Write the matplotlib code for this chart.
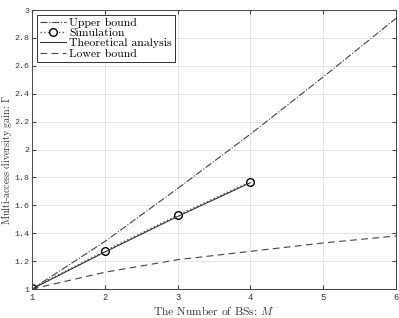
import numpy as np
import matplotlib
matplotlib.use('Agg')
import matplotlib.pyplot as plt

# data
M = [1, 2, 3, 4, 5, 6]
upper_bound = [1.0, 1.34, 1.72, 2.11, 2.52, 2.94]
lower_bound = [1.0, 1.12, 1.21, 1.27, 1.33, 1.38]
M_sim = [1, 2, 3, 4]
simulation = [1.005, 1.272, 1.528, 1.768]
theory = [1.0, 1.265, 1.52, 1.762]

plt.rcParams['mathtext.fontset'] = 'cm'
plt.rcParams['axes.formatter.use_mathtext'] = False

fig = plt.figure(figsize=(3.99, 3.18), dpi=100)
ax = fig.add_axes([32 / 399, 29 / 318, 364 / 399, 279 / 318])

ax.plot(M, upper_bound, '-.', color='#444444', lw=0.8, label='Upper bound')
ax.plot(M_sim, simulation, ':', color='#555555', lw=1.0, marker='o',
        markersize=5.5, markerfacecolor='white', markeredgecolor='black',
        markeredgewidth=1.0, label='Simulation')
ax.plot(M_sim, theory, '-', color='#333333', lw=0.8, label='Theoretical analysis')
ax.plot(M, lower_bound, '--', color='#444444', lw=0.8, dashes=(6, 4), label='Lower bound')

ax.set_xlim(1, 6)
ax.set_ylim(1, 3)
ax.set_xticks(M)
ax.set_yticks(np.arange(1, 3.01, 0.2))
ax.set_xticklabels([str(m) for m in M], family='Liberation Mono', fontsize=6.3)
ax.set_yticklabels(['1', '1.2', '1.4', '1.6', '1.8', '2', '2.2', '2.4', '2.6', '2.8', '3'],
                   family='Liberation Mono', fontsize=6)
ax.tick_params(direction='in', length=3, color='#444444', top=True, right=True,
               labelcolor='#333333', pad=3)
ax.tick_params(axis='y', pad=2)
ax.grid(True, color='#e6e6e6', lw=0.7)
for s in ax.spines.values():
    s.set_color('#444444')
    s.set_linewidth(0.7)

ax.set_xlabel(r'The Number of BSs: $M$', family='cmr10', fontsize=8.3, color='#333333', labelpad=1)
# y label placed by hand so it stays inside the narrow left margin
fig.text(6.8 / 399, 158 / 318, r'Multi-access diversity gain: $\Gamma$', family='cmr10',
         fontsize=7.2, color='#333333', rotation=90, ha='center', va='center')

leg = ax.legend(loc='upper left', prop={'family': 'cmr10', 'size': 8.5}, fancybox=False,
                edgecolor='#333333', framealpha=1, handlelength=2.2, handletextpad=0.3,
                labelspacing=0.0, borderpad=0.25, borderaxespad=0.4)
leg.get_frame().set_linewidth(0.7)

fig.savefig('out.png', dpi=100)
